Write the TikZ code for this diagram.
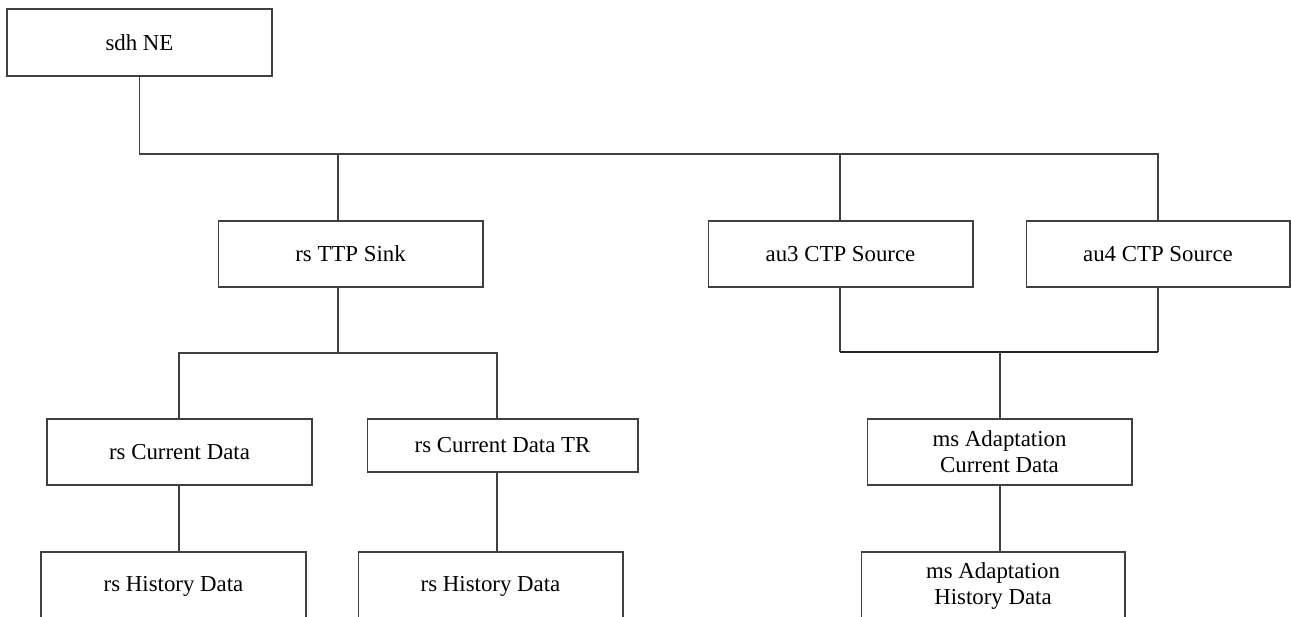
\documentclass[tikz,border=0pt]{standalone}
\usepackage{fontspec}
\setmainfont{Liberation Serif}

\begin{document}
\begin{tikzpicture}[x=0.02cm, y=-0.02cm, line width=0.6pt, draw=black!75,
    every node/.style={rectangle, draw=black!75, line width=0.6pt, align=center,
      minimum width=5.3cm, minimum height=1.32cm, inner sep=1pt,
      font=\fontsize{13}{14.8}\selectfont}]
  \clip (0,0) rectangle (1291,617);
  \node (sdh) at (139.5, 42.5) [minimum height=1.34cm] {sdh NE};
  \node (ttp) at (350.5, 254) {rs TTP Sink};
  \node (au3) at (840.5, 254) {au3 CTP Source};
  \node (au4) at (1158, 254) [minimum width=5.28cm] {au4 CTP Source};
  \node (rscd) at (179.5, 452) {rs Current Data};
  \node (rscdtr) at (502.5, 445.5) [minimum width=5.42cm, minimum height=1.06cm] {rs Current Data TR};
  \node (rshd1) at (173.5, 586) [minimum height=1.36cm] {rs History Data};
  \node (rshd2) at (490.5, 586) [minimum height=1.36cm] {rs History Data};
  \node (mscd) at (999.5, 452) {ms Adaptation\\Current Data};
  \node (mshd) at (993, 586) [minimum width=5.28cm, minimum height=1.36cm] {ms Adaptation\\History Data};
  \coordinate (bus0) at (1158, 154);
  \coordinate (bus1) at (338, 154);
  \coordinate (bus2) at (840, 154);
  \coordinate (rsl) at (179, 353);
  \coordinate (rsr) at (497, 353);
  \coordinate (ttpj) at (338, 353);
  \coordinate (auj) at (1000, 352);
  \draw (sdh.south) |- (bus0) -- (au4.north);
  \draw (bus1) -- (bus1 |- ttp.north);
  \draw (bus2) -- (bus2 |- au3.north);
  \draw (ttpj |- ttp.south) -- (ttpj);
  \draw (rscd.north -| rsl) |- (rsr) -- (rsr |- rscdtr.north);
  \draw (rsl |- rscd.south) -- (rsl |- rshd1.north);
  \draw (rsr |- rscdtr.south) -- (rsr |- rshd2.north);
  \draw (bus2 |- au3.south) -- (bus2 |- auj) (au4.south) -- (au4.south |- auj);
  \draw[line width=1.2pt, draw=black!85] (bus2 |- auj) -- (au4.south |- auj);
  \draw (auj) -- (auj |- mscd.north);
  \draw (auj |- mscd.south) -- (auj |- mshd.north);
\end{tikzpicture}
\end{document}
